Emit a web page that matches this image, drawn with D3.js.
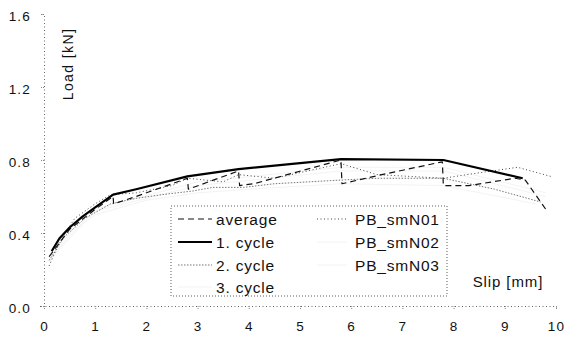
<!DOCTYPE html>
<html>
<head>
<meta charset="utf-8">
<script src="https://cdn.jsdelivr.net/npm/d3@7"></script>
<style>
  html, body { margin: 0; padding: 0; background: #fff; }
  svg { display: block; font-family: "Liberation Sans", Arial, sans-serif; }
</style>
</head>
<body>
<svg id="chart" width="565" height="344"></svg>
<script>
// Load–slip curves of the cyclic push tests
const xTicks = [0, 1, 2, 3, 4, 5, 6, 7, 8, 9, 10];
const yTicks = [0.0, 0.4, 0.8, 1.2, 1.6];

const cycle1Slip = [0.15, 0.3, 0.5, 0.75, 1.0, 1.35, 1.8, 2.8, 3.8, 5.8, 7.8, 9.35];
const cycle1Load = [0.30, 0.37, 0.43, 0.49, 0.54, 0.61, 0.64, 0.71, 0.75, 0.805, 0.80, 0.70];

const averageSlip = [0.1, 0.5, 1.0, 1.35, 1.36, 1.8, 2.8, 2.82, 3.8, 3.82, 4.1, 5.8, 5.82, 6.6, 7.78, 7.8, 8.3, 9.2, 9.4, 9.8];
const averageLoad = [0.27, 0.42, 0.53, 0.60, 0.56, 0.60, 0.70, 0.64, 0.74, 0.66, 0.67, 0.80, 0.67, 0.72, 0.79, 0.66, 0.66, 0.70, 0.69, 0.53];

const cycle2Slip = [0.1, 0.4, 0.8, 1.3, 1.8, 2.3, 2.9, 3.3, 3.9, 4.5, 5.8, 6.5, 7.8, 8.8, 9.7];
const cycle2Load = [0.25, 0.38, 0.48, 0.56, 0.59, 0.61, 0.63, 0.65, 0.65, 0.67, 0.69, 0.70, 0.70, 0.64, 0.57];

const cycle3Slip = [0.1, 0.5, 1.0, 2.0, 3.0, 4.0, 5.8, 7.8, 9.6];
const cycle3Load = [0.24, 0.40, 0.50, 0.58, 0.62, 0.64, 0.67, 0.66, 0.56];

const smN01Slip = [0.1, 0.3, 0.6, 1.0, 1.3, 1.8, 2.5, 2.8, 3.5, 3.8, 4.5, 5.8, 6.5, 7.8, 8.5, 9.25, 9.9];
const smN01Load = [0.22, 0.35, 0.48, 0.56, 0.61, 0.62, 0.66, 0.70, 0.68, 0.72, 0.70, 0.78, 0.72, 0.70, 0.73, 0.76, 0.71];

const smN02Slip = [0.1, 1.0, 3.0, 5.8, 7.8, 9.8];
const smN02Load = [0.25, 0.52, 0.66, 0.74, 0.74, 0.60];

const smN03Slip = [0.1, 1.0, 3.0, 5.8, 7.8, 9.8];
const smN03Load = [0.26, 0.53, 0.68, 0.76, 0.76, 0.62];

const seriesNames = ["average", "1. cycle", "2. cycle", "3. cycle", "PB_smN01", "PB_smN02", "PB_smN03"];

const svg = d3.select("#chart");
const x = d3.scaleLinear().domain([0, 10]).range([44, 556]);
const y = d3.scaleLinear().domain([0, 1.6]).range([306, 14]);

const styles = {
  "average":  { stroke: "#111", width: 1.2, dash: "6,4" },
  "1. cycle": { stroke: "#000", width: 2.2, dash: null },
  "2. cycle": { stroke: "#777", width: 1, dash: "1.5,1.5" },
  "3. cycle": { stroke: "#f3f3f3", width: 1, dash: null },
  "PB_smN01": { stroke: "#444", width: 1, dash: "1,2.5" },
  "PB_smN02": { stroke: "#f3f3f3", width: 1, dash: null },
  "PB_smN03": { stroke: "#f3f3f3", width: 1, dash: null }
};

const zip = (xs, ys) => xs.map((v, i) => [v, ys[i]]);
const data = {
  "average": zip(averageSlip, averageLoad),
  "1. cycle": zip(cycle1Slip, cycle1Load),
  "2. cycle": zip(cycle2Slip, cycle2Load),
  "3. cycle": zip(cycle3Slip, cycle3Load),
  "PB_smN01": zip(smN01Slip, smN01Load),
  "PB_smN02": zip(smN02Slip, smN02Load),
  "PB_smN03": zip(smN03Slip, smN03Load)
};

// Axes: dotted grey lines with short ticks
const xAxis = d3.axisBottom(x).tickValues(xTicks).tickSize(3).tickPadding(12).tickFormat(d3.format("d"));
const yAxis = d3.axisLeft(y).tickValues(yTicks).tickSize(4).tickPadding(9).tickFormat(d3.format(".1f"));

const gx = svg.append("g").attr("transform", "translate(0,306)").call(xAxis);
const gy = svg.append("g").attr("transform", "translate(44,0)").call(yAxis);
[gx, gy].forEach(g => {
  g.select(".domain").attr("stroke", "#666").attr("stroke-dasharray", "1,2.5");
  g.selectAll(".tick line").attr("stroke", "#888").attr("stroke-dasharray", "1,1");
  g.selectAll(".tick text").attr("fill", "#111").style("font-size", "13.5px")
    .style("letter-spacing", "1.2px")
    .style("font-family", "'Liberation Sans', Arial, sans-serif");
});
gy.selectAll(".tick text").attr("dy", "0.45em");

// Axis titles
svg.append("text")
  .attr("transform", "translate(73,64) rotate(-90)")
  .attr("text-anchor", "middle")
  .style("font-size", "14px").style("letter-spacing", "1.4px").attr("fill", "#111")
  .text("Load [kN]");
svg.append("text")
  .attr("x", 508).attr("y", 287)
  .attr("text-anchor", "middle")
  .style("font-size", "15px").style("letter-spacing", "0.9px").attr("fill", "#111")
  .text("Slip [mm]");

// Curves
const line = d3.line().x(d => x(d[0])).y(d => y(d[1]));
const drawOrder = ["3. cycle", "PB_smN02", "PB_smN03", "2. cycle", "PB_smN01", "average", "1. cycle"];
drawOrder.forEach(name => {
  const s = styles[name];
  svg.append("path")
    .datum(data[name])
    .attr("d", line)
    .attr("fill", "none")
    .attr("stroke", s.stroke)
    .attr("stroke-width", s.width)
    .attr("stroke-dasharray", s.dash)
    .attr("stroke-linejoin", "round");
});

// Legend
const legend = svg.append("g");
legend.append("rect")
  .attr("x", 171).attr("y", 206).attr("width", 276).attr("height", 90)
  .attr("fill", "none").attr("stroke", "#333").attr("stroke-width", 0.8)
  .attr("stroke-dasharray", "1,2");
const rowY = [219, 242, 265, 287];
seriesNames.forEach((name, i) => {
  const col = i < 4 ? 0 : 1;
  const row = i < 4 ? i : i - 4;
  const x0 = col === 0 ? 178 : 317;
  const x1 = col === 0 ? 212 : 347;
  const tx = col === 0 ? 216 : 355;
  const s = styles[name];
  legend.append("line")
    .attr("x1", x0).attr("x2", x1)
    .attr("y1", rowY[row]).attr("y2", rowY[row])
    .attr("stroke", s.stroke).attr("stroke-width", s.width)
    .attr("stroke-dasharray", s.dash);
  legend.append("text")
    .attr("x", tx).attr("y", rowY[row] + 5.5)
    .style("font-size", "15.5px").style("letter-spacing", "0.8px").attr("fill", "#111")
    .text(name);
});
</script>
</body>
</html>
